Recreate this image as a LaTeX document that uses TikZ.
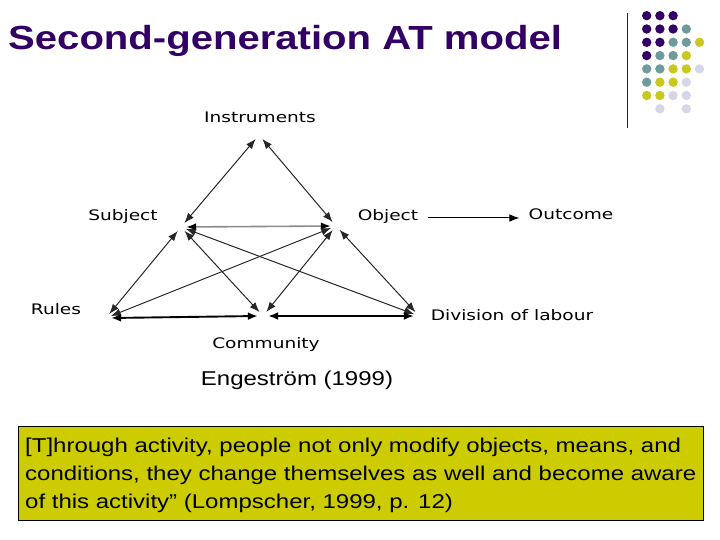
\documentclass[tikz,border=0pt]{standalone}
\usepackage{fontspec}
\setmainfont{Liberation Sans}
\newfontfamily\slidefont[FakeStretch=1.2]{Liberation Sans}
\newfontfamily\modelfont[FakeStretch=1.28]{DejaVu Sans}
\usetikzlibrary{arrows.meta}
\definecolor{atpurple}{HTML}{330066}
\definecolor{atteal}{HTML}{6E9B9B}
\definecolor{atyellow}{HTML}{C8C81E}
\definecolor{atlilac}{HTML}{D6D6E8}
\definecolor{quotefill}{HTML}{CCCC00}

\begin{document}
\begin{tikzpicture}[x=1bp, y=-1bp,
  corner/.style={circle, inner sep=0pt, minimum size=10bp},
  lbl/.style={inner sep=0pt, font=\modelfont\fontsize{14.5bp}{17bp}\selectfont},
  link/.style={{Latex[length=10bp,width=7.5bp]}-{Latex[length=10bp,width=7.5bp]}, black!85, line width=1bp},
  greylink/.style={{Latex[length=10bp,width=7.5bp,color=black]}-{Latex[length=10bp,width=7.5bp,color=black]}, black!45, line width=1.6bp},
  heavylink/.style={{Latex[length=10bp,width=8bp]}-{Latex[length=10bp,width=8bp]}, black, line width=1.9bp}]
  \useasboundingbox (0,0) rectangle (720,540);

  \node (title) [anchor=base west, inner sep=0pt, text=atpurple, font=\slidefont\bfseries\fontsize{33.4bp}{38bp}\selectfont] at (8,50) {Second-generation AT model};

  \draw[black!85, line width=1bp] (627,13) -- (627,128);
  \foreach \col/\row/\tone in {0/0/atpurple,1/0/atpurple,2/0/atpurple,
      0/1/atpurple,1/1/atpurple,2/1/atpurple,3/1/atteal,
      0/2/atpurple,1/2/atpurple,2/2/atteal,3/2/atteal,4/2/atyellow,
      0/3/atpurple,1/3/atteal,2/3/atteal,3/3/atyellow,
      0/4/atteal,1/4/atteal,2/4/atyellow,3/4/atyellow,4/4/atlilac,
      0/5/atteal,1/5/atyellow,2/5/atyellow,3/5/atlilac,
      0/6/atyellow,1/6/atyellow,2/6/atlilac,3/6/atlilac,
      1/7/atlilac,3/7/atlilac}
    \fill[\tone] ({646.7+13.2*\col},{15.7+13.3*\row}) circle (4.7);

  \node (I) [corner] at (259,135) {};
  \node (S) [corner] at (181,227) {};
  \node (O) [corner] at (336,226) {};
  \node (R) [corner] at (106,318) {};
  \node (C) [corner] at (263,316) {};
  \node (D) [corner] at (419,316) {};

  \node (instr) [lbl] at (260,117) {Instruments};
  \node (subj) [lbl] at (123,216) {Subject};
  \node (obj) [lbl] at (388,216) {Object};
  \node (out) [lbl] at (571,214) {Outcome};
  \node (rules) [lbl] at (56,309) {Rules};
  \node (comm) [lbl] at (266,344) {Community};
  \node (div) [lbl] at (512,315) {Division of labour};

  \draw[link] (I) -- (S);
  \draw[link] (I) -- (O);
  \draw[greylink] (S) -- (O);
  \draw[link] (S) -- (R);
  \draw[link] (S) -- (C);
  \draw[link] (S) -- (D);
  \draw[link] (O) -- (R);
  \draw[link] (O) -- (C);
  \draw[link] (O) -- (D);
  \draw[heavylink] (R.east) -- (C.west);
  \draw[heavylink] (C.east) -- (D.west);
  \draw[-{Latex[length=10bp,width=7.5bp]}, black, line width=1bp, shorten <=10bp, shorten >=9bp] ([yshift=-2bp]obj.east) -- ([yshift=-2bp]obj.east -| out.west);

  \node (cite) [font=\slidefont\fontsize{20bp}{24bp}\selectfont] at (297,380) {Engeström (1999)};

  \node (quotebox) [draw=black, line width=0.8bp, fill=quotefill, anchor=north west, minimum width=685bp, minimum height=94bp, inner sep=0pt] at (18,426) {};
  \node (quote) [anchor=west, inner sep=0pt, align=left, font=\slidefont\fontsize{20bp}{28bp}\selectfont] at ([xshift=7bp, yshift=-1.5bp]quotebox.west) {[T]hrough activity, people not only modify objects, means, and\\conditions, they change themselves as well and become aware\\of this activity” (Lompscher, 1999, p. 12)};
\end{tikzpicture}
\end{document}
